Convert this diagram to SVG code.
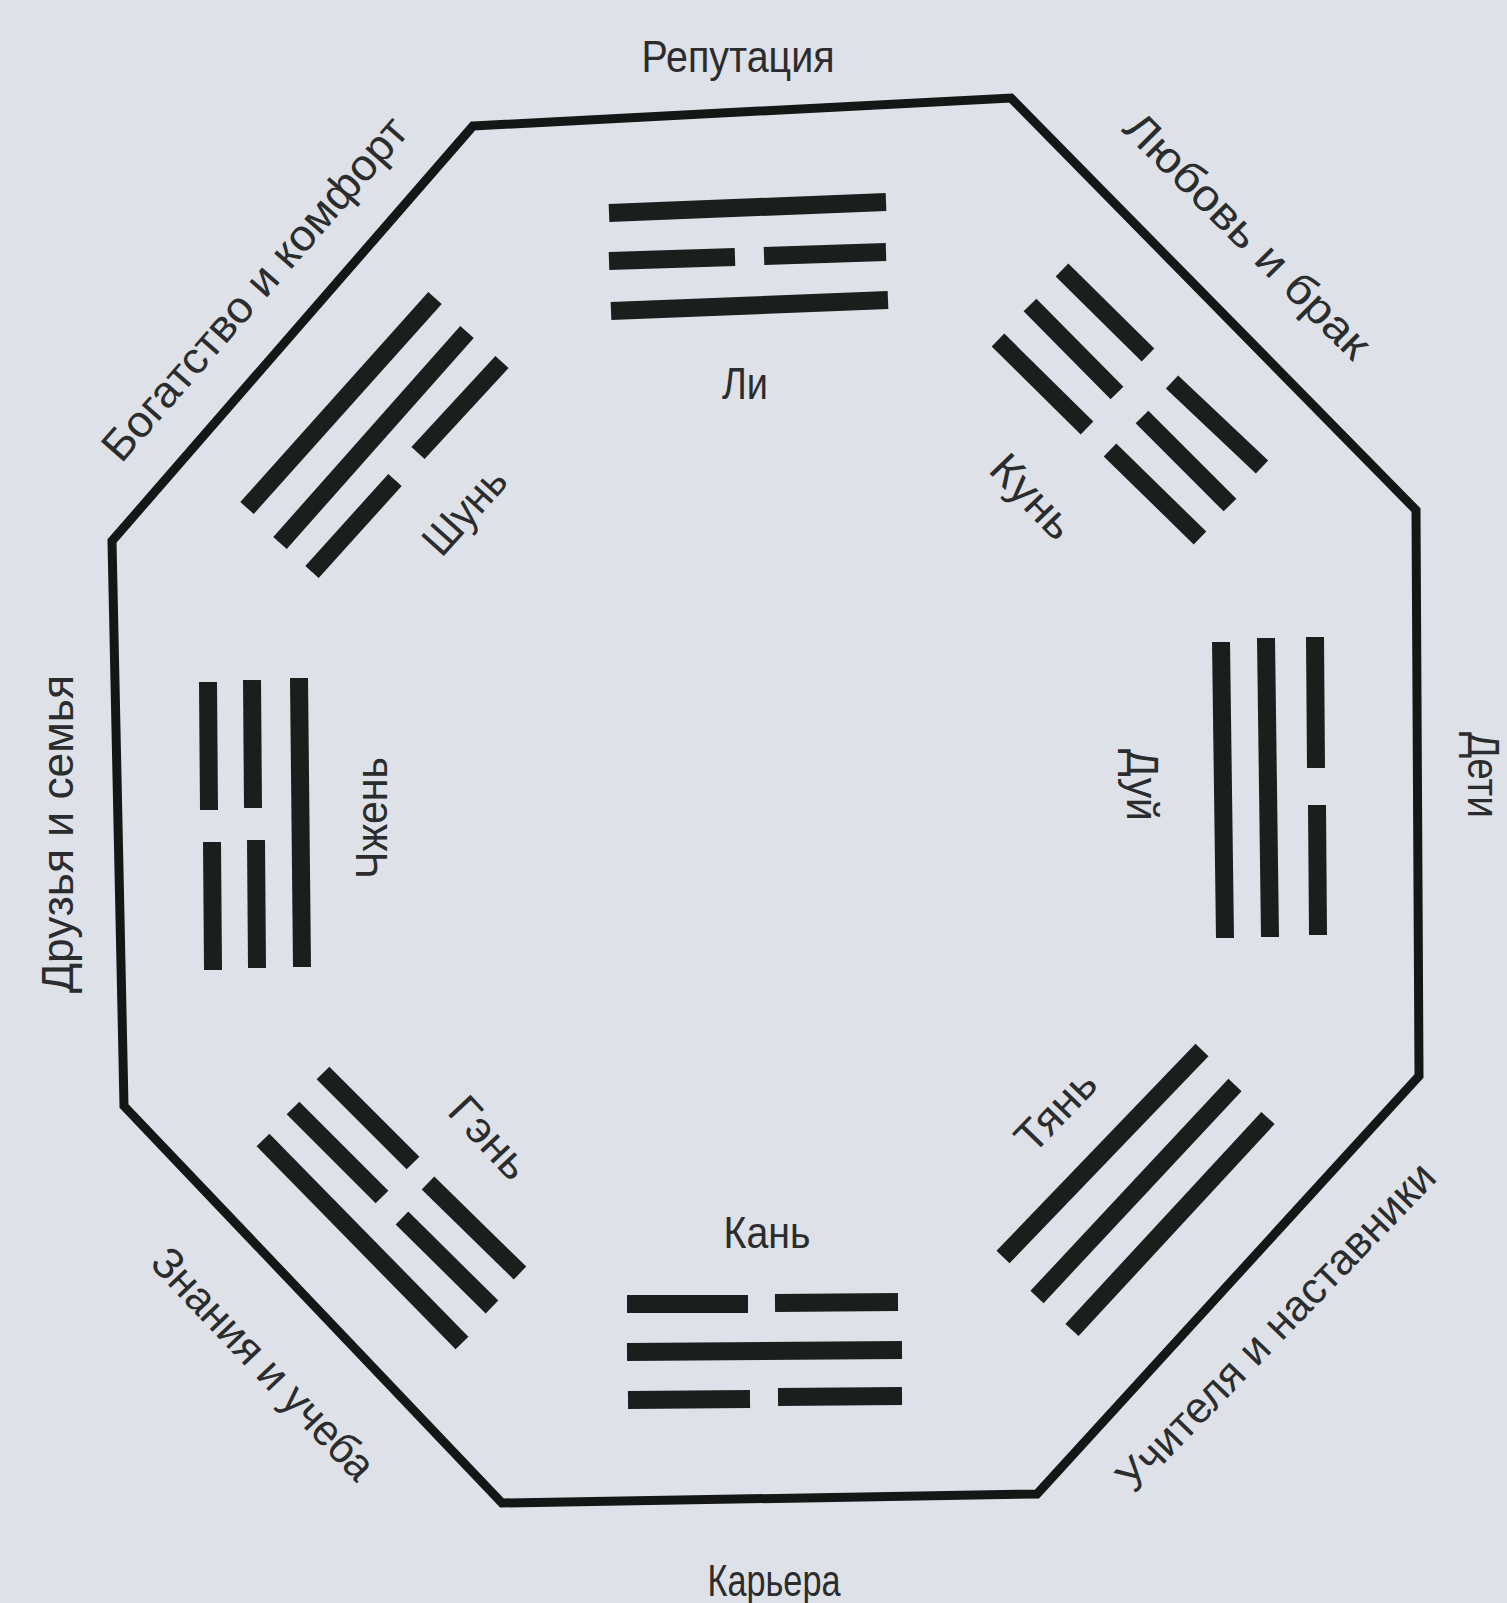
<svg xmlns="http://www.w3.org/2000/svg" width="1507" height="1603" viewBox="0 0 1507 1603">
<style>
.bg{fill:#dee1e7}
.oct{fill:none;stroke:#151616;stroke-width:9;stroke-linejoin:miter}
.bar{stroke:#1c1e1e;stroke-width:18;stroke-linecap:butt;fill:none}
text{font-family:"Liberation Sans","DejaVu Sans",sans-serif;font-size:44px;fill:#2a2c2e;text-anchor:middle}
</style>
<rect class="bg" x="0" y="0" width="1507" height="1603"/>

<g id="frame">
<polygon class="oct" points="473,126 1011,98 1416,510 1419,1076 1037,1494 502,1503 124,1106 112,541"/>
</g>

<g id="li">
<line class="bar" x1="609" y1="213" x2="886" y2="202"/>
<line class="bar" x1="609" y1="261" x2="735" y2="257"/>
<line class="bar" x1="764" y1="256" x2="886" y2="252"/>
<line class="bar" x1="611" y1="311" x2="888" y2="300"/>
<text x="745" y="399" textLength="46" lengthAdjust="spacingAndGlyphs">Ли</text>
</g>

<g id="kun">
<line class="bar" x1="1062" y1="270" x2="1148" y2="355"/>
<line class="bar" x1="1172" y1="382" x2="1262" y2="467"/>
<line class="bar" x1="1030" y1="305" x2="1117" y2="393"/>
<line class="bar" x1="1142" y1="417" x2="1230" y2="505"/>
<line class="bar" x1="998" y1="340" x2="1087" y2="428"/>
<line class="bar" x1="1110" y1="450" x2="1200" y2="538"/>
<text transform="translate(1031,498) rotate(46)" x="0" y="13" textLength="100" lengthAdjust="spacingAndGlyphs">Кунь</text>
</g>

<g id="dui">
<line class="bar" x1="1221" y1="642" x2="1225" y2="938"/>
<line class="bar" x1="1266" y1="638" x2="1270" y2="937"/>
<line class="bar" x1="1315" y1="637" x2="1316" y2="768"/>
<line class="bar" x1="1317" y1="805" x2="1318" y2="935"/>
<text transform="translate(1127,785) rotate(90)" x="0" y="0" textLength="72" lengthAdjust="spacingAndGlyphs">Дуй</text>
</g>

<g id="tian">
<line class="bar" x1="1003" y1="1257" x2="1202" y2="1050"/>
<line class="bar" x1="1037" y1="1297" x2="1235" y2="1085"/>
<line class="bar" x1="1072" y1="1330" x2="1268" y2="1118"/>
<text transform="translate(1057,1112) rotate(-46)" x="0" y="13" textLength="96" lengthAdjust="spacingAndGlyphs">Тянь</text>
</g>

<g id="kan">
<line class="bar" x1="627" y1="1304" x2="748" y2="1304"/>
<line class="bar" x1="775" y1="1303" x2="898" y2="1302"/>
<line class="bar" x1="627" y1="1352" x2="902" y2="1350"/>
<line class="bar" x1="628" y1="1400" x2="750" y2="1399"/>
<line class="bar" x1="778" y1="1397" x2="902" y2="1396"/>
<text x="767" y="1248" textLength="87" lengthAdjust="spacingAndGlyphs">Кань</text>
</g>

<g id="gen">
<line class="bar" x1="323" y1="1073" x2="413" y2="1163"/>
<line class="bar" x1="428" y1="1183" x2="520" y2="1273"/>
<line class="bar" x1="293" y1="1108" x2="382" y2="1197"/>
<line class="bar" x1="402" y1="1218" x2="492" y2="1307"/>
<line class="bar" x1="263" y1="1140" x2="462" y2="1343"/>
<text transform="translate(488,1139) rotate(47)" x="0" y="13" textLength="96" lengthAdjust="spacingAndGlyphs">Гэнь</text>
</g>

<g id="zhen">
<line class="bar" x1="208" y1="682" x2="209" y2="810"/>
<line class="bar" x1="212" y1="842" x2="213" y2="970"/>
<line class="bar" x1="252" y1="680" x2="253" y2="808"/>
<line class="bar" x1="256" y1="840" x2="257" y2="968"/>
<line class="bar" x1="299" y1="678" x2="302" y2="967"/>
<text transform="translate(387,818) rotate(-90)" x="0" y="0" textLength="122" lengthAdjust="spacingAndGlyphs">Чжень</text>
</g>

<g id="shun">
<line class="bar" x1="247" y1="508" x2="435" y2="298"/>
<line class="bar" x1="280" y1="543" x2="467" y2="332"/>
<line class="bar" x1="312" y1="572" x2="395" y2="480"/>
<line class="bar" x1="418" y1="453" x2="502" y2="362"/>
<text transform="translate(466,512) rotate(-48)" x="0" y="13" textLength="102" lengthAdjust="spacingAndGlyphs">Шунь</text>
</g>

<g id="area-reputation">
<text x="738" y="72" textLength="193" lengthAdjust="spacingAndGlyphs">Репутация</text>
</g>
<g id="area-love">
<text transform="translate(1246,237) rotate(45)" x="0" y="13" textLength="328" lengthAdjust="spacingAndGlyphs">Любовь и брак</text>
</g>
<g id="area-children">
<text transform="translate(1468,775) rotate(90)" x="0" y="0" textLength="86" lengthAdjust="spacingAndGlyphs">Дети</text>
</g>
<g id="area-mentors">
<text transform="translate(1277,1328) rotate(-46)" x="0" y="13" textLength="438" lengthAdjust="spacingAndGlyphs">Учителя и наставники</text>
</g>
<g id="area-career">
<text x="774" y="1596" textLength="133" lengthAdjust="spacingAndGlyphs">Карьера</text>
</g>
<g id="area-knowledge">
<text transform="translate(262,1365) rotate(46.4)" x="0" y="13" textLength="302" lengthAdjust="spacingAndGlyphs">Знания и учеба</text>
</g>
<g id="area-family">
<text transform="translate(73,834) rotate(-90)" x="0" y="0" textLength="318" lengthAdjust="spacingAndGlyphs">Друзья и семья</text>
</g>
<g id="area-wealth">
<text transform="translate(256,290) rotate(-48.9)" x="0" y="13" textLength="440" lengthAdjust="spacingAndGlyphs">Богатство и комфорт</text>
</g>
</svg>
